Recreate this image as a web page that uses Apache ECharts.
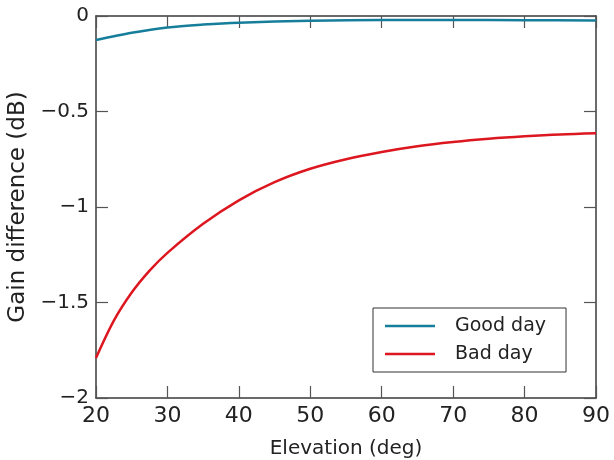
<!DOCTYPE html>
<html>
<head>
<meta charset="utf-8">
<title>Gain difference</title>
<style type="text/css">
    *{
        margin:0;
        padding:0;
    }
    html,body{
        width:100%;
        height:100%;
        background:#fff;
    }
    #main{
        width:614px;
        height:460px;
    }
</style>
</head>
<body>
<div id="main"></div>
<script src="https://cdn.jsdelivr.net/npm/echarts@6/dist/echarts.min.js"></script>
<script type="text/javascript">
    // elevation (deg) and gain difference (dB)
    var goodElev = [20, 25, 30, 35, 40, 50, 60, 70, 80, 90];
    var goodGain = [-0.126, -0.088, -0.060, -0.045, -0.035, -0.025, -0.021, -0.021, -0.022, -0.023];

    var badElev = [20, 22.5, 25, 27.5, 30, 35, 40, 45, 50, 55, 60, 65, 70, 75, 80, 85, 90];
    var badGain = [-1.79, -1.595, -1.448, -1.333, -1.24, -1.088, -0.965, -0.87, -0.80, -0.75, -0.712, -0.682, -0.66, -0.643, -0.63, -0.62, -0.614];

    var seriesNames = ['Good day', 'Bad day'];
    var xTicks = [20, 30, 40, 50, 60, 70, 80, 90];
    var yTicks = [0, -0.5, -1, -1.5, -2];

    function pairs(xs, ys){
        var out = [];
        for (var i = 0; i < xs.length; i++) out.push([xs[i], ys[i]]);
        return out;
    }
    function minus(v){
        return String(v).replace('-', '\u2212');
    }

    var font = 'DejaVu Sans';
    var ink = '#222';
    var axisCol = '#3a3a3a';

    var myChart = echarts.init(document.getElementById('main'));

    var baseX = {
        type: 'value',
        min: xTicks[0],
        max: xTicks[xTicks.length - 1],
        interval: 10,
        splitLine: {show: false},
        axisLine: {show: true, onZero: false, lineStyle: {color: axisCol, width: 1.5}},
        axisTick: {show: true, inside: true, length: 12, lineStyle: {color: '#555', width: 1.2}}
    };
    var baseY = {
        type: 'value',
        min: yTicks[yTicks.length - 1],
        max: yTicks[0],
        interval: 0.5,
        splitLine: {show: false},
        axisLine: {show: true, onZero: false, lineStyle: {color: axisCol, width: 1.5}},
        axisTick: {show: true, inside: true, length: 12, lineStyle: {color: '#555', width: 1.2}}
    };

    var option = {
        animation: false,
        grid: {left: 96, top: 16, right: 18, bottom: 62, outerBoundsMode: 'none'},
        legend: {
            data: seriesNames,
            orient: 'vertical',
            left: 373,
            top: 308,
            padding: [8, 20, 8, 12],
            itemGap: 8,
            itemWidth: 50,
            itemHeight: 2.5,
            icon: 'rect',
            borderColor: '#333',
            borderWidth: 1,
            textStyle: {fontFamily: font, fontSize: 19, color: ink, lineHeight: 20, padding: [0, 0, 0, 15]}
        },
        xAxis: [
            Object.assign({}, baseX, {
                position: 'bottom',
                name: 'Elevation (deg)',
                nameLocation: 'middle',
                nameGap: 41,
                nameTextStyle: {fontFamily: font, fontSize: 20, color: ink},
                axisLabel: {fontFamily: font, fontSize: 22, color: ink, margin: 7}
            }),
            Object.assign({}, baseX, {
                position: 'top',
                axisLabel: {show: false}
            })
        ],
        yAxis: [
            Object.assign({}, baseY, {
                position: 'left',
                name: 'Gain difference (dB)',
                nameLocation: 'middle',
                nameGap: 54,
                nameTextStyle: {fontFamily: font, fontSize: 23, color: ink},
                axisLabel: {fontFamily: font, fontSize: 20, color: ink, margin: 7, formatter: minus}
            }),
            Object.assign({}, baseY, {
                position: 'right',
                axisLabel: {show: false}
            })
        ],
        series: [
            {
                name: seriesNames[0],
                type: 'line',
                data: pairs(goodElev, goodGain),
                smooth: 0.3,
                symbol: 'none',
                color: '#167e9b',
                lineStyle: {width: 2.5}
            },
            {
                name: seriesNames[1],
                type: 'line',
                data: pairs(badElev, badGain),
                smooth: 0.3,
                symbol: 'none',
                color: '#dc1720',
                lineStyle: {width: 2.5}
            }
        ]
    };
    myChart.setOption(option);
</script>
</body>
</html>
